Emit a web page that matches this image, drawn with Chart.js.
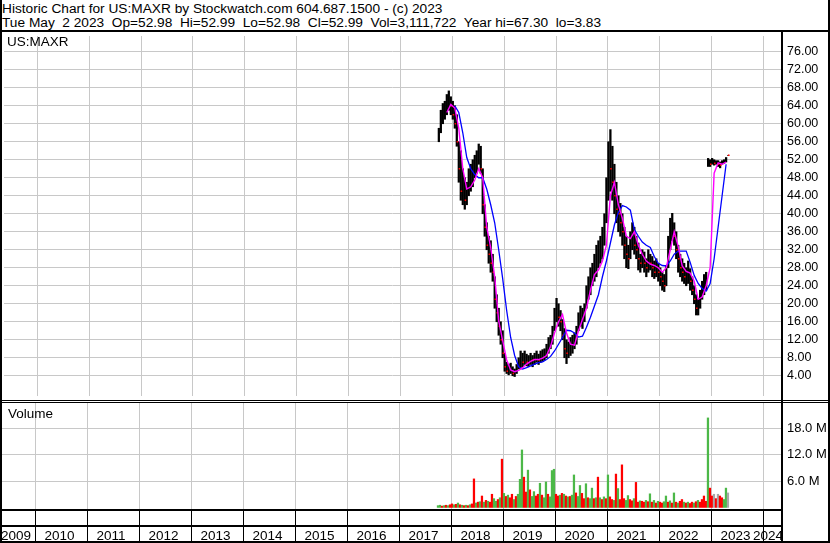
<!DOCTYPE html>
<html>
<head>
<meta charset="utf-8">
<script src="https://cdn.jsdelivr.net/npm/chart.js@4.4.1/dist/chart.umd.min.js"></script>
<style>
  body { margin: 0; background: #fff; font-family: "Liberation Sans", Arial, sans-serif; }
  #wrap { position: relative; width: 830px; height: 543px; overflow: hidden; background: #fff; }
  .txt { position: absolute; font-size: 13.5px; line-height: 14px; white-space: pre; color: #000; }
  .hd { font-size: 13.7px; }
  .ln { position: absolute; background: #000; z-index: 5; }
  #pbox { position: absolute; left: 0; top: 32px; width: 830px; height: 368px; }
  #vbox { position: absolute; left: 0; top: 403px; width: 830px; height: 140px; }
</style>
</head>
<body>
<div id="wrap">
  <div class="txt hd" style="left:2px;top:2px">Historic Chart for US:MAXR by Stockwatch.com 604.687.1500 - (c) 2023</div>
  <div class="txt hd" style="left:2px;top:16px">Tue May  2 2023  Op=52.98  Hi=52.99  Lo=52.98  Cl=52.99  Vol=3,111,722  Year hi=67.30  lo=3.83</div>

  <div id="pbox"><canvas id="priceChart" width="830" height="368"></canvas></div>
  <div id="vbox"><canvas id="volChart" width="830" height="140"></canvas></div>

  <div class="txt" style="left:7px;top:35px;z-index:6">US:MAXR</div>
  <div class="txt" style="left:8px;top:407px;z-index:6">Volume</div>

  <!-- frame lines -->
  <div class="ln" style="left:0;top:0;width:2px;height:543px"></div>
  <div class="ln" style="left:828px;top:0;width:2px;height:543px"></div>
  <div class="ln" style="left:0;top:30px;width:830px;height:2px"></div>
  <div class="ln" style="left:781px;top:30px;width:2px;height:513px"></div>
  <div class="ln" style="left:0;top:400px;width:830px;height:1px"></div>
  <div class="ln" style="left:0;top:402px;width:830px;height:1px"></div>
  <div class="ln" style="left:0;top:509px;width:783px;height:2px"></div>
  <div class="ln" style="left:0;top:525px;width:783px;height:2px"></div>
  <div class="ln" style="left:0;top:541px;width:830px;height:2px"></div>
</div>

<script>
// ---- data ----
const years = [2009, 2010, 2011, 2012, 2013, 2014, 2015, 2016, 2017, 2018, 2019, 2020, 2021, 2022, 2023, 2024];
const priceTicks = [4, 8, 12, 16, 20, 24, 28, 32, 36, 40, 44, 48, 52, 56, 60, 64, 68, 72, 76];
const volTicks = [6, 12, 18]; // millions

// one bar every two weeks, first one early Oct 2017
const firstBar = 2017.74;
const barsPerYear = 26;

const lows = [56,58,60,61,62,63,62,61,59,55, 47,43,42,41,42,44,45,46,48,49,
  51,49,40,35,32,29,27,25,19,16, 13,11,8,5,4.5,4.2,4.5,4,3.83,4.5,
  5.5,5.5,6,6.5,6.2,6,6.5,6,6.5,7, 6.5,7,7.2,7.5,8,9,10,11,14,16,
  15,14,12,8,6.7,8,8.5,9,10,11, 14,15,14.5,16,19,21,22,24,25,26,
  28,29,30,33,38,43,45,43,40,38, 36,35,33,30,28,27.8,30,32,31,30,
  27.5,27,28,27,26,27,27.5,26,25.6,26, 25,24,23,22.7,24,28,32,34,33,30,
  27,26,25,24.5,24,24.5,23,22,20,17.5, 17.5,19,21,22,23,50.5,50.5,51,50.8,51,
  50.5,50.2,51,51.2,51.5,52.98];

const highs = [59,63,64.5,65,66.5,67.3,66,65,64,62, 56,54,50,48,47,50,51,52,53,54,
  55.5,55,50,42,38,35,34,31,26,22, 19,16,14,9,7,6.5,6.8,6,5.5,6.5,
  8,9.5,9,9.5,8.8,8.5,9,8.5,9,9.5, 8.8,9.5,9.8,10,11,12.5,13,15,19,21.2,
  20,18.5,16.5,14.5,12,11.5,12.5,13,13.5,15, 18,19.5,19,20,24,26,28,29,31,33,
  34,35,37,40,48,56,58.7,55,51,47, 44,42.3,40,37,35,33,36,38,37,35,
  33.5,31,32,31.5,30,32,31,30.5,29.5,30, 29,28,27,26.5,28.5,35,39,40.1,38,36,
  33,31,30,29,28,29.5,27.8,26,24,22, 21,23,25,26.5,27,52.3,52,52.3,52,51.8,
  51.8,51.5,51.8,52,52.5,52.99];

const closes = [57,62,63,64,65,66,64,62,60,56, 50,45,46,43,45,48,49,50,51,52,
  54,50,42,37,33,31,29,27,21,18, 15,12,9,6,5,5,6,4.5,4.5,6,
  7,8,7,8,7,7,8,7.5,8,8, 7.5,8.5,9,9,10,11.5,12,14,18,19,
  17,16,13,10,9,9.5,11,12,12,14, 17,17,17,19,23,24,26,27,29,31,
  32,33,35,38,45,52,50,47,44,41, 40,38,36,33,31,30,34,35,33,32,
  30,29,30,29,28,30,29,28,27,28, 27,26,25,24,27,33,37,38,35,32,
  30,28,27,26,26,27,25,23,21,19, 19,21,23,24,25,51.5,51,51.5,51.2,51.3,
  51,50.8,51.4,51.6,52,53];

// moving averages, one point every second bar starting at bar 4
const maFast = [62.5,64.3,63.5,59,50,45.5,46,47.5,50,48, 37,32.5,26,16.2,11.8,7.5,5.3,4.9,5.2,5.8,
  6.6,7.2,7.6,7.6,7.9,8.5,10.5,13.5,16,17.6, 13.5,11,10.8,14,16.5,19,23,26.5,27.5,29.5,
  33,44,47,42,39,35,34.5,36,33,31, 29.5,28.8,28.5,28,27,28,32,36,32.7,28.4,
  27.2,26.8,25,21,21.5,24,28,49,51.3,51, 51.5];
const maSlow = [null,null,64,62.5,58,52.5,50,48.7,48,48, 45.5,42,38,32,25.6,18.5,12.5,8.5,6,5.5,
  5.8,6.2,6.6,6.9,7.1,7.6,8.3,9.5,11,12.5, 14.1,14,13.5,12.6,12.8,14.8,17,19.5,22,26,
  29.5,33.5,37.5,40.3,41.8,41.5,40.8,36.5,35,33.7, 33,32.5,30.5,29,28.5,28.4,29.5,31,31.7,31.7,
  31.7,29.2,26.3,24.5,23.4,22.8,24.5,30,37,44, 51];

// volume in millions, g = up, r = down, x = grey
const volume = [0.4,0.5,0.3,0.4,0.5,0.4,0.6,0.8,0.6,0.7, 1.0,0.6,0.5,0.4,0.5,0.4,0.6,0.8,6.5,1.0,
  1.2,1.3,2.6,1.2,1.6,1.4,1.2,3.0,2.0,1.4, 1.8,2.2,11.0,3.2,2.5,2.8,2.2,3.0,1.8,2.5,
  3.0,6.4,13.1,6.9,3.5,8.5,4.0,2.5,3.6,2.6, 3.0,5.5,2.8,2.2,5.8,3.0,2.4,8.4,8.7,3.0,
  2.6,2.8,3.2,3.0,2.6,2.4,2.5,2.8,7.4,3.3, 2.5,5.0,3.2,2.0,5.4,2.2,2.0,4.4,2.0,2.2,
  6.9,2.2,1.8,2.4,2.0,7.4,2.4,1.8,1.6,7.6, 4.3,1.8,9.7,2.0,1.6,2.7,1.8,1.5,2.0,5.7,
  1.2,1.5,1.4,1.2,1.6,1.3,3.1,1.2,1.6,1.0, 1.4,1.2,1.0,1.3,2.6,1.2,1.5,1.0,3.3,1.2,
  1.0,1.4,1.8,1.2,1.0,1.2,0.9,1.2,1.0,1.3, 1.6,1.2,1.8,2.6,1.4,20.4,4.4,2.6,3.0,2.0,
  3.0,2.6,2.2,1.8,4.4,3.3];
const volDir = "ggrgrgrrgr" + "grgrgrgrrg" + "rgrgrgrrgg" + "rgrgrgrrgr" + "gggrrgrggr" +
  "rgrggrgggr" + "rgrgrgrggr" + "ggrrgrggrg" + "rgrgrgrrgr" + "grrrggrrgr" +
  "rgrrgrgrgr" + "grrggrgrgr" + "grrgrgrrgr" + "grrrrgrrxr" + "xrrggx";

// ---- helpers ----
const dates = lows.map((_, i) => firstBar + i / barsPerYear);
const maDates = maFast.map((_, i) => dates[4 + 2 * i]);
const FONT = '"Liberation Sans", Arial, sans-serif';
const GRID = "#c8c8c8";
const X_MIN = 2009.356, X_MAX = 2024.337;
const dirColor = { g: "#4cb848", r: "#ff0000", x: "#a8a8a8" };
// red close tick only on down bars
const closeColors = closes.map((c, i) => (i > 0 && c < closes[i - 1]) || i === closes.length - 1 ? "#ff0000" : "rgba(0,0,0,0)");

function noPad(s) {
  s.paddingTop = 0; s.paddingBottom = 0; s.paddingLeft = 0; s.paddingRight = 0;
}

function xScale() {
  return {
    type: "linear", min: X_MIN, max: X_MAX, offset: false,
    afterBuildTicks: s => { s.ticks = years.slice(1).map(v => ({ value: v })); },
    afterFit: s => { s.height = 0; noPad(s); },
    ticks: { display: false },
    grid: { color: GRID, drawTicks: false, tickLength: 0, offset: false },
    border: { display: false }
  };
}

// ---- price chart ----
new Chart(document.getElementById("priceChart"), {
  type: "bar",
  data: {
    datasets: [
      {
        type: "line", label: "fast", order: 1,
        data: maFast.map((v, i) => ({ x: maDates[i], y: v })),
        borderColor: "#ff00ff", borderWidth: 1.4, pointRadius: 0, tension: 0
      },
      {
        type: "line", label: "slow", order: 2,
        data: maSlow.map((v, i) => ({ x: maDates[i], y: v })),
        borderColor: "#0000ff", borderWidth: 1.3, pointRadius: 0, tension: 0
      },
      {
        type: "line", label: "close", order: 3, showLine: false,
        data: closes.map((v, i) => ({ x: dates[i] + 0.012, y: v })),
        pointStyle: "rect", pointRadius: 1.1, pointBackgroundColor: closeColors,
        pointBorderWidth: 0
      },
      {
        type: "bar", label: "range", order: 4,
        data: lows.map((v, i) => ({ x: dates[i], y: [v, highs[i]] })),
        backgroundColor: "#000", barThickness: 1.6, borderWidth: 0
      }
    ]
  },
  options: {
    responsive: false, animation: false, devicePixelRatio: 1,
    layout: { padding: { left: 2, right: 0, top: 0, bottom: 0 } },
    plugins: { legend: { display: false }, tooltip: { enabled: false } },
    scales: {
      x: xScale(),
      y: {
        position: "right", min: -0.5, max: 79.5,
        afterBuildTicks: s => { s.ticks = priceTicks.map(v => ({ value: v })); },
        afterFit: s => { s.width = 49; noPad(s); },
        ticks: { callback: v => v.toFixed(2), color: "#000", padding: 6,
                 font: { family: FONT, size: 12.5 } },
        grid: { color: GRID, drawTicks: false, tickLength: 0 },
        border: { display: false }
      }
    }
  }
});

// ---- volume chart + year strip ----
const yearStrip = {
  id: "yearStrip",
  afterDraw(chart) {
    const { ctx, chartArea, scales: { x } } = chart;
    const top = chartArea.bottom + 2, bottom = chartArea.bottom + 32;
    ctx.save();
    ctx.fillStyle = "#000";
    years.slice(1).forEach(yr => {
      const px = Math.round(x.getPixelForValue(yr));
      ctx.fillRect(px, top, 1, bottom - top);
    });
    ctx.font = "13.5px " + FONT;
    ctx.textBaseline = "alphabetic";
    ctx.textAlign = "left";
    years.forEach(yr => {
      const label = String(yr);
      const w = ctx.measureText(label).width;
      let left = x.getPixelForValue(yr) + 9;
      left = Math.max(1, Math.min(left, chartArea.right + 2 - w));
      ctx.fillText(label, left, chartArea.bottom + 31);
    });
    ctx.restore();
  }
};

new Chart(document.getElementById("volChart"), {
  type: "bar",
  data: {
    datasets: [{
      data: volume.map((v, i) => ({ x: dates[i], y: v })),
      backgroundColor: volume.map((_, i) => dirColor[volDir[i]]),
      barThickness: 1.6, borderWidth: 0
    }]
  },
  options: {
    responsive: false, animation: false, devicePixelRatio: 1,
    layout: { padding: { left: 2, right: 0, top: 0, bottom: 34 } },
    plugins: { legend: { display: false }, tooltip: { enabled: false } },
    scales: {
      x: xScale(),
      y: {
        position: "right", min: -0.36, max: 23.8,
        afterBuildTicks: s => { s.ticks = volTicks.map(v => ({ value: v })); },
        afterFit: s => { s.width = 49; noPad(s); },
        ticks: { callback: v => v.toFixed(1) + " M", color: "#000", padding: 6,
                 font: { family: FONT, size: 13 } },
        grid: { color: GRID, drawTicks: false, tickLength: 0 },
        border: { display: false }
      }
    }
  },
  plugins: [yearStrip]
});
</script>
</body>
</html>
